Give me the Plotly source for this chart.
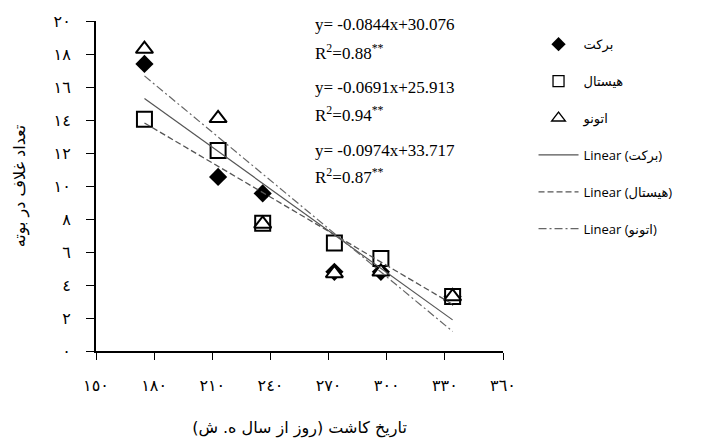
import plotly.graph_objects as go

# Planting date (day of the solar year) and pod counts per plant for three cultivars
planting_day = [175, 213, 236, 273, 297, 334]
barekat = [17.4, 10.55, 9.55, 4.8, 4.8, 3.3]
hystal = [14.05, 12.15, 7.75, 6.55, 5.6, 3.3]
otono = [18.3, 14.1, 7.7, 4.7, 4.8, 3.3]

# Fitted linear trends (slope, intercept) and R² as reported
fits = {
    "برکت": (-0.0844, 30.076, 0.88),
    "هیستال": (-0.0691, 25.913, 0.94),
    "اتونو": (-0.0974, 33.717, 0.87),
}

x_ticks = [150, 180, 210, 240, 270, 300, 330, 360]
y_ticks = list(range(0, 21, 2))

AR_DIGITS = "٠١٢٣٤٥٦٧٨٩"


def to_arabic(n):
    return "".join(AR_DIGITS[int(c)] for c in str(n))


series = [
    ("برکت", barekat, dict(symbol="diamond", color="black", line=dict(width=0))),
    ("هیستال", hystal, dict(symbol="square", color="white", line=dict(width=2, color="black"))),
    ("اتونو", otono, dict(symbol="triangle-up", color="white", line=dict(width=2, color="black"))),
]
plot_sizes = [14, 15, 15]
legend_sizes = [11, 11, 12]

line_styles = {
    "برکت": dict(color="#555555", width=1.2, dash="solid"),
    "هیستال": dict(color="#555555", width=1.3, dash="6px,3px"),
    "اتونو": dict(color="#666666", width=1.2, dash="8px,3px,2px,3px"),
}

fig = go.Figure()

for i, (name, vals, mk) in enumerate(series):
    # data markers
    fig.add_trace(go.Scatter(
        x=planting_day, y=vals, mode="markers", name=name,
        marker=dict(mk, size=plot_sizes[i]), showlegend=False,
    ))
    # legend entry with a smaller symbol
    fig.add_trace(go.Scatter(
        x=[None], y=[None], mode="markers", name=name,
        marker=dict(mk, size=legend_sizes[i], line=dict(mk["line"], width=1.3 if i else 0)),
        legendgroup=f"g{i}", legendrank=i + 1,
    ))

x0, x1 = min(planting_day), max(planting_day)
for i, (name, (slope, icpt, r2)) in enumerate(fits.items()):
    fig.add_trace(go.Scatter(
        x=[x0, x1], y=[slope * x0 + icpt, slope * x1 + icpt], mode="lines",
        name=f"Linear ({name})", line=line_styles[name],
        legendgroup=f"l{i}", legendrank=10 + i,
    ))

# Regression equations and R² labels
eq_font = dict(family="Liberation Serif, Times New Roman, serif", size=17, color="black")
eq_pos = [19.76, 15.94, 12.18]
r2_pos = [18.1, 14.35, 10.6]
for i, (name, (slope, icpt, r2)) in enumerate(fits.items()):
    fig.add_annotation(
        x=262, y=eq_pos[i], xref="x", yref="y", xanchor="left", yanchor="middle",
        showarrow=False, text=f"y= {slope:.4f}x+{icpt:.3f}", font=eq_font,
    )
    fig.add_annotation(
        x=262, y=r2_pos[i], xref="x", yref="y", xanchor="left", yanchor="middle",
        showarrow=False, text=f"R<sup>2</sup>={r2:.2f}<sup>**</sup>", font=eq_font,
    )

axis_font = dict(family="DejaVu Sans, serif", size=16, color="black")

fig.update_layout(
    width=705, height=446,
    margin=dict(l=96, r=202, t=21, b=95),
    plot_bgcolor="white", paper_bgcolor="white",
    showlegend=True,
    legend=dict(
        x=1.075, y=0.975, xanchor="left", yanchor="top",
        traceorder="grouped", tracegroupgap=17, itemwidth=40, itemsizing="trace",
        font=dict(family="Open Sans, DejaVu Sans, sans-serif", size=13, color="black"),
        bgcolor="rgba(0,0,0,0)",
    ),
    xaxis=dict(
        range=[150, 360], tickvals=x_ticks, ticktext=[to_arabic(v) for v in x_ticks],
        showline=True, linecolor="black", linewidth=2, ticks="outside", ticklen=7,
        tickcolor="black", tickwidth=1, showgrid=False, zeroline=False,
        tickfont=axis_font, ticklabelstandoff=12,
        title=dict(text="تاریخ کاشت (روز از سال ه. ش)", standoff=28,
                   font=dict(family="DejaVu Sans, serif", size=16, color="black")),
    ),
    yaxis=dict(
        range=[0, 20], tickvals=y_ticks, ticktext=[to_arabic(v) for v in y_ticks],
        showline=True, linecolor="black", linewidth=2, ticks="outside", ticklen=8,
        tickcolor="black", tickwidth=1, showgrid=False, zeroline=False,
        tickfont=axis_font, ticklabelstandoff=12,
        title=dict(text="تعداد غلاف در بوته", standoff=24,
                   font=dict(family="DejaVu Sans, serif", size=16, color="black")),
    ),
)

fig.write_html("out.html")
